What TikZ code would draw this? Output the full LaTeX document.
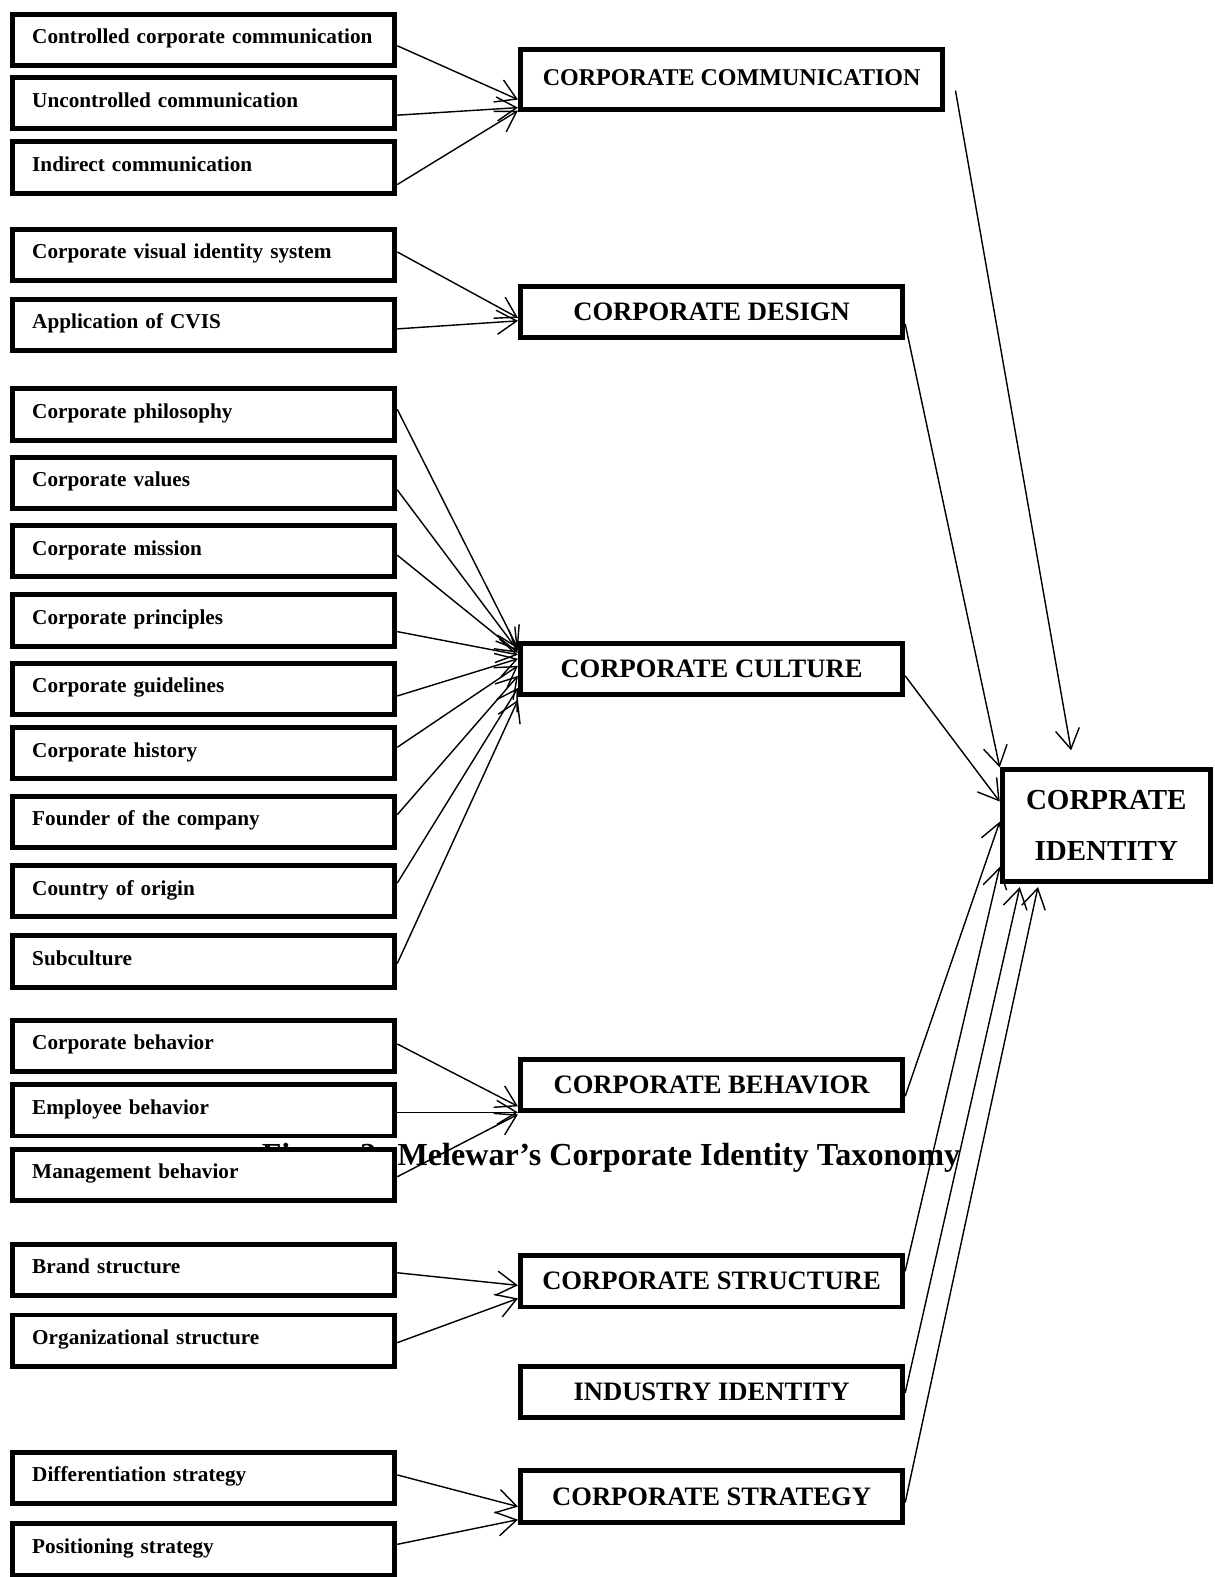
\documentclass[tikz,border=0pt]{standalone}
\usepackage{fontspec}
\setmainfont{Liberation Serif}
\usetikzlibrary{arrows.meta}
\usetikzlibrary{positioning,calc}
\tikzset{
    item/.style={
        draw,
        rectangle,
        fill=white,
        line width=3.5pt,
        minimum width=9.5cm,
        minimum height=1.275cm,
        inner xsep=0.49cm,
        text width=8.52cm,
        align=left,
        text height=0.8em,
        text depth=0.24em,
        font=\fontsize{15}{18}\selectfont\bfseries
    },
    factor/.style={
        draw,
        rectangle,
        fill=white,
        line width=3.5pt,
        minimum width=9.5cm,
        minimum height=1.275cm,
        inner sep=2pt,
        text height=1.2em,
        text depth=0pt,
        font=\fontsize{18.8}{22}\selectfont\bfseries
    },
    core/.style={
        draw,
        rectangle,
        fill=white,
        line width=3.5pt,
        minimum width=5.175cm,
        minimum height=2.775cm,
        align=center,
        font=\fontsize{20.5}{36}\selectfont\bfseries
    },
    link/.style={
        line width=1pt,
        -{Straight Barb[length=14pt, width=17pt]}
    }
}

\begin{document}
\begin{tikzpicture}[x=0.025cm, y=-0.025cm]
  \useasboundingbox (0,0) rectangle (1208,1568);

  % Caption (lies behind the boxes)
  \node[anchor=base west, inner sep=0pt, font=\fontsize{22.7}{27}\selectfont\bfseries]
    (cap) at (260,1159) {Figure 2: Melewar’s Corporate Identity Taxonomy};

  % Elements
  \node[item] (cc)   at (202.5,39.5)  {Controlled corporate communication};
  \node[item] (uc)   at (202.5,102.5) {Uncontrolled communication};
  \node[item] (ic)   at (202.5,166.5) {Indirect communication};
  \node[item] (cvis) at (202.5,253.5) {Corporate visual identity system};
  \node[item] (acv)  at (202.5,323)   {Application of CVIS};
  \node[item] (phil) at (202.5,412)   {Corporate philosophy};
  \node[item] (val)  at (202.5,480)   {Corporate values};
  \node[item] (mis)  at (202.5,548)   {Corporate mission};
  \node[item] (pri)  at (202.5,617)   {Corporate principles};
  \node[item] (gui)  at (202.5,685)   {Corporate guidelines};
  \node[item] (his)  at (202.5,749)   {Corporate history};
  \node[item] (fou)  at (202.5,817)   {Founder of the company};
  \node[item] (cou)  at (202.5,886)   {Country of origin};
  \node[item] (sub)  at (202.5,956)   {Subculture};
  \node[item] (cb)   at (202.5,1040)  {Corporate behavior};
  \node[item] (eb)   at (202.5,1104)  {Employee behavior};
  \node[item] (mb)   at (202.5,1168)  {Management behavior};
  \node[item] (bs)   at (202.5,1262.5) {Brand structure};
  \node[item] (os)   at (202.5,1333)  {Organizational structure};
  \node[item] (ds)   at (202.5,1469.5) {Differentiation strategy};
  \node[item] (ps)   at (202.5,1540.5) {Positioning strategy};

  % Dimensions
  \node[factor, minimum width=10.5cm, minimum height=1.475cm, text height=0.88em,
        font=\fontsize{17}{20}\selectfont\bfseries] (comm) at (727.5,79) {CORPORATE COMMUNICATION};
  \node[factor] (design) at (707.5,310)  {CORPORATE DESIGN};
  \node[factor] (cult)   at (707.5,665)  {CORPORATE CULTURE};
  \node[factor] (behav)  at (707.5,1079) {CORPORATE BEHAVIOR};
  \node[factor] (struc)  at (707.5,1274) {CORPORATE STRUCTURE};
  \node[factor] (indus)  at (707.5,1384) {INDUSTRY IDENTITY};
  \node[factor] (strat)  at (707.5,1488) {CORPORATE STRATEGY};

  % Identity
  \node[core] (ident) at (1100,821) {CORPRATE\\IDENTITY};

  % Elements to dimensions
  \draw[link] ($(cc.east)+(0,6)$)    -- ($(comm.west)+(0,20)$);
  \draw[link] ($(uc.east)+(0,12)$)   -- ($(comm.west)+(0,28)$);
  \draw[link] ($(ic.east)+(0,17)$)   -- ($(comm.west)+(0,31)$);

  \draw[link] ($(cvis.east)+(0,-3)$) -- ($(design.west)+(0,6)$);
  \draw[link] ($(acv.east)+(0,4)$)   -- ($(design.west)+(0,9)$);

  \draw[link] ($(phil.east)+(0,-5)$) -- ($(cult.west)+(0,-20)$);
  \draw[link] ($(val.east)+(0,7)$)   -- ($(cult.west)+(0,-18)$);
  \draw[link] ($(mis.east)+(0,4)$)   -- ($(cult.west)+(0,-16)$);
  \draw[link] ($(pri.east)+(0,11)$)  -- ($(cult.west)+(0,-14)$);
  \draw[link] ($(gui.east)+(0,7)$)   -- ($(cult.west)+(0,-10)$);
  \draw[link] ($(his.east)+(0,-6)$)  -- ($(cult.west)+(0,-3)$);
  \draw[link] ($(fou.east)+(0,-7)$)  -- ($(cult.west)+(0,7)$);
  \draw[link] ($(cou.east)+(0,-8)$)  -- ($(cult.west)+(0,19)$);
  \draw[link] ($(sub.east)+(0,2)$)   -- ($(cult.west)+(0,31)$);

  \draw[link] ($(cb.east)+(0,-2)$)   -- ($(behav.west)+(0,21)$);
  \draw[link] ($(eb.east)+(0,2)$)    -- ($(behav.west)+(0,27)$);
  \draw[link] ($(mb.east)+(0,2)$)    -- ($(behav.west)+(0,29)$);

  \draw[link] ($(bs.east)+(0,3)$)    -- ($(struc.west)+(0,4)$);
  \draw[link] ($(os.east)+(0,2)$)    -- ($(struc.west)+(0,17)$);

  \draw[link] ($(ds.east)+(0,-3)$)   -- ($(strat.west)+(0,10)$);
  \draw[link] ($(ps.east)+(0,-5)$)   -- ($(strat.west)+(0,23)$);

  % Dimensions to identity
  \draw[link] ($(comm.east)+(10,11)$)  -- ($(ident.north)+(-35,-17)$);
  \draw[link] ($(design.east)+(0,12)$) -- (ident.north west);
  \draw[link] ($(cult.east)+(0,7)$)    -- ($(ident.west)+(0,-24)$);
  \draw[link] ($(behav.east)+(0,11)$)  -- ($(ident.west)+(0,-4)$);
  \draw[link] ($(struc.east)+(0,-10)$) -- ($(ident.south west)+(0,-17)$);
  \draw[link] ($(indus.east)+(0,1)$)   -- ($(ident.south west)+(20,3)$);
  \draw[link] ($(strat.east)+(0,6)$)   -- ($(ident.south west)+(38,3)$);
\end{tikzpicture}
\end{document}
